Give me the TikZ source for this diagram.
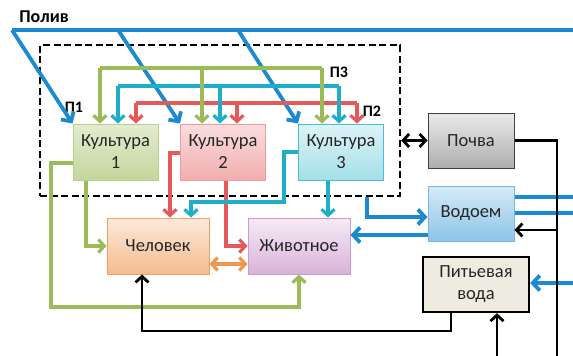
\documentclass[tikz,border=0pt]{standalone}
\usepackage{fontspec}
\setmainfont{Carlito}
\usetikzlibrary{arrows.meta}

\definecolor{txt}{HTML}{262626}
\definecolor{cgreen}{HTML}{9BBB59}
\definecolor{ccyan}{HTML}{1DAFC7}
\definecolor{cred}{HTML}{E45A5A}
\definecolor{cblue}{HTML}{1B8AD0}
\definecolor{corange}{HTML}{F0964F}
\definecolor{cbeige}{HTML}{EEECE1}

\tikzset{
  box/.style={draw, line width=1pt, align=center, minimum width=85, minimum height=56,
    font=\fontsize{18.5}{22}\selectfont, text=txt},
  tag/.style={font=\fontsize{16}{18}\selectfont\bfseries, text=black},
  tip/.style={-{Straight Barb[length=6pt,width=13pt]}},
  gline/.style={cgreen, line width=3.2pt, tip},
  cline/.style={ccyan, line width=3.2pt, tip},
  rline/.style={cred, line width=3.2pt, tip},
  bline/.style={cblue, line width=3.8pt},
  kline/.style={black, line width=2.8pt},
}

\begin{document}
\begin{tikzpicture}[x=1pt, y=-1pt]
    \useasboundingbox (0,0) rectangle (573,356);

    % Watered zone
    \node[draw, line width=2.4pt, dash pattern=on 7pt off 3.5pt, minimum width=360, minimum height=151] (zone) at (220,120.5) {};

    % Crops
    \node[box, draw=cgreen!70, top color=cgreen!28, bottom color=cgreen!60] (k1) at (115.5,152) {Культура\\1};
    \node[box, draw=cred!60, top color=cred!20, bottom color=cred!50] (k2) at (223,152) {Культура\\2};
    \node[box, draw=ccyan!80, top color=ccyan!15, bottom color=ccyan!40] (k3) at (341,152) {Культура\\3};

    % Consumers
    \node[box, minimum width=102, draw=corange!90, top color=corange!20, bottom color=corange!65] (man) at (158,246) {Человек};
    \node[box, minimum width=102, draw=violet!40, top color=violet!8, bottom color=violet!30] (animal) at (299,246) {Животное};

    % Environment
    \node[box, minimum width=86, minimum height=55, draw=black!75, top color=black!8, bottom color=black!32] (soil) at (471,140.5) {Почва};
    \node[box, minimum width=86, minimum height=55, draw=cblue!60, top color=cblue!18, bottom color=cblue!50] (pond) at (471,213.5) {Водоем};
    \node[box, minimum width=106, minimum height=55, draw=black, line width=2.4pt, fill=cbeige] (drink) at (476,284.5) {Питьевая\\вода};

    % Labels
    \node[tag, font=\fontsize{18}{20}\selectfont\bfseries] (poliv) at (44,17) {Полив};
    \node[tag] (p1) at (74,107) {П1};
    \node[tag] (p2) at (372,111) {П2};
    \node[tag] (p3) at (339,72) {П3};

    % Irrigation
    \coordinate (w0) at (12,30);
    \coordinate (w1) at (118,30);
    \coordinate (w2) at (238,30);
    \draw[bline] (w0) -- (573,30);
    \draw[bline, -{Straight Barb[length=7pt,width=15pt]}] (w0) -- (k1.north west);
    \draw[bline, -{Straight Barb[length=7pt,width=15pt]}] (w1) -- (k2.north west);
    \draw[bline, -{Straight Barb[length=7pt,width=15pt]}] (w2) -- (k3.north west);

    % Crop rotation buses
    \draw[cgreen, line width=3.2pt] (100,68) -- (322,68);
    \draw[ccyan, line width=3.2pt] (118,86) -- (339,86);
    \draw[cred, line width=3.2pt] (136,103) -- (357,103);
    \foreach \x/\k in {100/k1,202/k2,322/k3}
      \draw[gline] (\x,68) -- (\x,68 |- \k.north);
    \foreach \x/\k in {118/k1,220/k2,339/k3}
      \draw[cline] (\x,86) -- (\x,86 |- \k.north);
    \foreach \x/\k in {136/k1,237/k2,357/k3}
      \draw[rline] (\x,103) -- (\x,103 |- \k.north);

    % Crops to consumers
    \draw[gline] (k1.south -| 86,0) |- (man.west);
    \draw[gline] (k1.west |- 0,163) -| (51,307) -| (animal.south);
    \draw[rline] (k2.west |- 0,153) -| (man.north -| 170,0);
    \draw[rline] (k2.south -| 226,0) |- (animal.west);
    \draw[cline] (k3.west |- 0,152) -| (284,202) -| (man.north -| 191,0);
    \draw[cline] (k3.south -| 328,0) -- (animal.north -| 328,0);
    \draw[corange, line width=3.2pt, {Straight Barb[length=6pt,width=13pt]}-{Straight Barb[length=6pt,width=13pt]}] (man.east |- 0,264) -- (animal.west |- 0,264);

    % Water
    \draw[bline, -{Straight Barb[length=7pt,width=15pt]}] (zone.south -| 367,0) |- (pond.west |- 0,217);
    \draw[bline, -{Straight Barb[length=7pt,width=15pt]}] (pond.west |- 0,235) -- (animal.east |- 0,235);
    \draw[bline] (pond.east |- 0,197) -- (573,197);
    \draw[bline] (pond.east |- 0,213) -- (573,213);
    \draw[bline, -{Straight Barb[length=7pt,width=15pt]}] (573,283) -- (drink.east |- 0,283);

    % Soil and drinking water
    \draw[kline, {Straight Barb[length=6pt,width=13pt]}-{Straight Barb[length=6pt,width=13pt]}] (zone.east |- soil.west) -- (soil.west);
    \draw[kline] (soil.east) -| (557,356);
    \draw[kline, tip] (557,230) -- (pond.east |- 0,230);
    \draw[kline, tip] (drink.south -| 451,0) |- (142,331) -- (man.south -| 142,0);
    \draw[kline, tip] (497,356) -- (drink.south -| 497,0);
  \end{tikzpicture}
\end{document}
